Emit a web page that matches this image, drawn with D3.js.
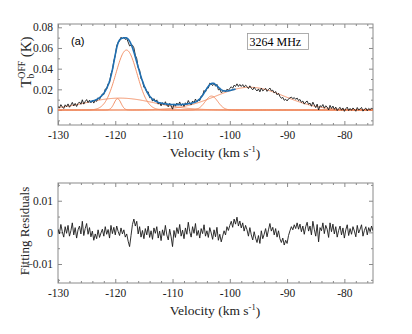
<!DOCTYPE html>
<html>
<head>
<meta charset="utf-8">
<script src="https://cdn.jsdelivr.net/npm/d3@7"></script>
<style>
  body { margin: 0; background: #fff; }
  svg { display: block; }
  .serif, .serif text { font-family: "Liberation Serif", "DejaVu Serif", "Times New Roman", serif; }
</style>
</head>
<body>
<div id="chart"></div>
<script>
// Channel grid of the spectrum (km/s)
const velStart = -130;
const velStep = 0.25;

const observed = [
  3.3, 2.0, 5.2, 3.0,   1.5, 5.0, 3.2, 5.9,   2.7, 4.7, 7.4, 3.9,   6.4, 3.4, 6.3, 7.8,
  5.6, 9.9, 5.7, 8.2,   10.1, 7.1, 9.5, 7.0,  9.1, 6.7, 9.3, 8.4,   11.8, 10.3, 12.9, 15.5,
  15.0, 20.3, 20.4, 25.4, 26.2, 35.2, 38.6, 47.6, 52.7, 62.2, 65.3, 66.8, 70.4, 69.0, 70.5, 68.3,
  69.1, 65.7, 62.0, 62.8, 62.7, 60.2, 53.0, 49.7, 40.9, 38.5, 30.4, 28.4, 21.9, 21.7, 17.3, 17.6,
  11.9, 12.5, 8.6, 11.0, 8.3, 9.8, 5.7, 7.4,   4.0, 7.1, 5.1, 8.0,    4.8, 3.1, 6.4, 4.0,
  0.8, 5.9, 3.7, 6.7,   4.8, 7.8, 4.1, 6.1,   3.5, 7.0, 5.2, 9.2,    6.4, 5.0, 8.7, 7.0,
  10.6, 7.6, 10.2, 9.1, 13.5, 13.9, 18.9, 17.5, 21.3, 21.2, 26.0, 25.2, 23.6, 26.2, 23.0, 24.8,
  19.5, 20.2, 16.8, 17.8, 19.0, 17.5, 20.1, 19.0, 20.9, 22.5, 21.0, 24.0, 22.8, 25.3, 22.8, 24.7,
  22.8, 24.6, 22.1, 24.0, 22.7, 20.7, 23.4, 21.1, 19.5, 22.0, 19.9, 18.4, 20.4, 17.6, 21.3, 18.5,
  19.6, 21.0, 18.0, 19.8, 21.3, 18.5, 19.2, 16.4, 17.9, 14.7, 16.1, 13.1, 11.3, 12.2, 9.4, 10.4,
  8.8, 10.8, 11.7, 12.5, 10.9, 12.0, 10.3, 11.6, 9.1, 10.2, 7.4, 8.7,   5.7, 7.7, 8.7, 5.5,
  6.7, 3.6, 7.6, 4.8,   2.3, 5.7, 0.0, 4.2,   3.0, 5.3, 1.7, 4.1,    2.8, 0.0, 4.5, 1.5,
  3.8, 0.6, 2.8, -0.6,  1.3, 2.6, -0.2, 2.0,  -1.3, 1.2, 2.8, -0.6,  1.5, -0.3, 2.0, 0.6,
  -1.2, 2.4, 0.0, 1.1,  2.5, -1.1, 0.7, 1.9,  -0.8, 1.5, 0.2, 2.0,   0.5
];

// Fitting residuals, mK, same channels
const residuals = [
  1.0, -0.5, 2.5, 0.2,  -1.5, 1.8, -0.3, 2.2, -1.2, 0.5, 3.0, -0.8,  1.5, -1.8, 0.8, 2.0,
  -0.5, 3.5, -1.0, 1.2, 2.8, -0.6, 1.5, -1.4, 0.4, -2.5, -0.5, -2.0, 0.8, -1.6, -0.2, 1.0,
  -1.2, 1.8, -0.6, 0.9, -1.8, 2.2, -0.4, 1.6, -0.8, 2.0, 0.3, -1.0,  1.4, -0.5, 0.8, -1.5,
  -0.5, -2.8, -4.5, -1.0, 2.5, 4.2, 2.0, 3.5, -0.5, 1.8, -1.5, 0.6, -2.0, 1.2, -0.8, 2.0,
  -1.6, 0.5, -2.2, 1.4, -0.3, 1.8, -1.8, 0.4, -2.6, 0.8, -1.0, 2.2,  -0.8, -2.4, 1.0, -1.4,
  -4.5, 0.6, -1.6, 1.5, -0.4, 2.5, -1.2, 0.7, -2.0, 1.4, -0.6, 3.2,  0.2, -1.5, 1.8, -0.3,
  2.8, -1.0, 0.6, -1.8, 1.2, -0.4, 2.4, -1.2, 0.5, -1.6, 1.5, -0.2,  -2.2, 0.8, -1.4, 1.6,
  -2.5, -0.6, -3.0, -1.2, 0.5, -0.8, 1.8, 0.6, 2.2, 3.5, 1.6, 4.2,   2.6, 4.8, 2.0, 3.6,
  1.4, 3.0, 0.4, 2.2,   0.8, -1.2, 1.5, -0.8, -2.4, 0.2, -1.8, -3.2, -1.0, -3.5, 0.5, -2.0,
  -0.6, 1.2, -1.4, 0.8, 2.8, 0.4, 1.6, -0.8,  1.2, -1.5, 0.5, -2.0,  -3.2, -1.8, -4.0, -2.5,
  -3.5, -1.0, 0.5, 1.8, 0.8, 2.4, 1.2, 3.0,   1.0, 2.6, 0.2, 2.0,    -0.6, 1.8, 3.2, 0.4,
  2.0, -0.8, 3.5, 1.0,  -1.2, 2.5, -3.0, 1.5, 0.5, 3.0, -0.4, 2.2,   1.0, -1.6, 3.0, 0.2,
  2.6, -0.5, 1.8, -1.5, 0.6, 2.0, -0.8, 1.4,  -1.8, 0.8, 2.4, -1.0,  1.2, -0.6, 1.8, 0.4,
  -1.4, 2.2, -0.2, 1.0, 2.4, -1.2, 0.6, 1.8,  -0.8, 1.5, 0.2, 2.0,   0.5
];

// Gaussian components of the fit (amplitude in mK, centre and sigma in km/s)
const compAmp = [58, 11, 11.5, 13.5, 22];
const compCenter = [-118.05, -119.6, -119.2, -103.2, -96.5];
const compSigma = [1.85, 0.6, 6, 1.1, 6];
const fitRange = [-124.5, -99];

const xTicks = [-130, -120, -110, -100, -90, -80];
const topYTicks = [0, 0.02, 0.04, 0.06, 0.08];
const botYTicks = [-0.01, 0, 0.01];

const W = 412, H = 334;
const frameColor = '#8a8a8a';

const svg = d3.select('#chart').append('svg')
  .attr('width', W).attr('height', H);

const x = d3.scaleLinear().domain([-130, -75]).range([58, 373]);
const yTop = d3.scaleLinear().domain([-0.0145, 0.0832]).range([125, 24]);
const yBot = d3.scaleLinear().domain([-0.016, 0.0156]).range([283, 183]);

const vel = observed.map((d, i) => velStart + i * velStep);

function gauss(v, k) {
  const d = v - compCenter[k];
  return compAmp[k] / 1000 * Math.exp(-d * d / (2 * compSigma[k] * compSigma[k]));
}

function drawFrame(y, yTicks, yMinorStep, yFmt, clipId) {
  const [y0, y1] = y.range();
  const [x0, x1] = x.range();
  const g = svg.append('g');

  const xMinor = d3.range(-130, -74.9, 2).filter(v => !xTicks.includes(v));
  const yd = y.domain();
  const yMinor = d3.range(Math.ceil(yd[0] / yMinorStep) * yMinorStep, yd[1], yMinorStep)
    .filter(v => !yTicks.some(t => Math.abs(t - v) < 1e-9));

  const axes = [
    [d3.axisBottom(x).tickValues(xTicks).tickSize(-4).tickPadding(6).tickFormat(d => String(d)), `translate(0,${y0})`],
    [d3.axisBottom(x).tickValues(xMinor).tickSize(-2).tickFormat(''), `translate(0,${y0})`],
    [d3.axisTop(x).tickValues(xTicks).tickSize(-4).tickFormat(''), `translate(0,${y1})`],
    [d3.axisTop(x).tickValues(xMinor).tickSize(-2).tickFormat(''), `translate(0,${y1})`],
    [d3.axisLeft(y).tickValues(yTicks).tickSize(-4).tickPadding(5).tickFormat(yFmt), `translate(${x0},0)`],
    [d3.axisLeft(y).tickValues(yMinor).tickSize(-2).tickFormat(''), `translate(${x0},0)`],
    [d3.axisRight(y).tickValues(yTicks).tickSize(-4).tickFormat(''), `translate(${x1},0)`],
    [d3.axisRight(y).tickValues(yMinor).tickSize(-2).tickFormat(''), `translate(${x1},0)`]
  ];
  axes.forEach(([ax, tr]) => {
    const a = g.append('g').attr('transform', tr).call(ax.tickSizeOuter(0));
    a.attr('font-family', null).attr('font-size', null).attr('class', 'serif');
    a.select('.domain').remove();
    a.selectAll('line').attr('stroke', frameColor);
    a.selectAll('text').style('font-size', '11.5px').attr('fill', '#222');
  });

  g.append('rect')
    .attr('x', x0).attr('y', y1).attr('width', x1 - x0).attr('height', y0 - y1)
    .attr('fill', 'none').attr('stroke', frameColor).attr('stroke-width', 1);

  svg.append('clipPath').attr('id', clipId)
    .append('rect').attr('x', x0).attr('y', y1).attr('width', x1 - x0).attr('height', y0 - y1);
}

// ---------- top panel ----------
drawFrame(yTop, topYTicks, 0.01, d => d === 0 ? '0' : d3.format('.2f')(d), 'clipTop');

const plotTop = svg.append('g').attr('clip-path', 'url(#clipTop)');
const grid = d3.range(-130, -74.95, 0.1);

compAmp.forEach((a, k) => {
  plotTop.append('path')
    .datum(grid)
    .attr('fill', 'none').attr('stroke', '#f0875a').attr('stroke-width', 0.9)
    .attr('d', d3.line().x(v => x(v)).y(v => yTop(gauss(v, k))));
});

plotTop.append('path')
  .datum(observed.map((d, i) => [vel[i], d / 1000]))
  .attr('fill', 'none').attr('stroke', '#1a1a1a').attr('stroke-width', 0.9)
  .attr('d', d3.line().x(d => x(d[0])).y(d => yTop(d[1])));

const fitGrid = grid.filter(v => v >= fitRange[0] && v <= fitRange[1]);
plotTop.append('path')
  .datum(fitGrid)
  .attr('fill', 'none').attr('stroke', '#1f6fb2').attr('stroke-width', 1.6)
  .attr('d', d3.line().x(v => x(v)).y(v => yTop(d3.sum(compAmp, (a, k) => gauss(v, k)))));

svg.append('text')
  .attr('x', 71).attr('y', 45)
  .style('font-family', '"Liberation Sans", Arial, sans-serif').style('font-size', '11px')
  .text('(a)');

svg.append('rect')
  .attr('x', 247.5).attr('y', 33.5).attr('width', 61).attr('height', 16)
  .attr('fill', '#fff').attr('stroke', '#999').attr('stroke-width', 0.8);
svg.append('text')
  .attr('class', 'serif')
  .attr('x', 249.5).attr('y', 45.5)
  .style('font-size', '12px')
  .text('3264 MHz');

// y label top: T_b^OFF (K)
const yl = svg.append('text')
  .attr('class', 'serif')
  .attr('transform', 'translate(31,62) rotate(-90)')
  .attr('text-anchor', 'middle')
  .style('font-size', '15px').attr('fill', '#222');
yl.append('tspan').text('T');
yl.append('tspan').style('font-size', '9.5px').attr('dy', '0.35em').text('b');
yl.append('tspan').style('font-size', '9.5px').attr('dx', -4.8).attr('dy', '-1.0em').text('OFF');
yl.append('tspan').attr('dy', '0.4em').text(' (K)');

function xTitle(yPos) {
  const t = svg.append('text')
    .attr('class', 'serif')
    .attr('x', 215).attr('y', yPos).attr('text-anchor', 'middle')
    .style('font-size', '13.5px').attr('fill', '#222');
  t.append('tspan').text('Velocity (km s');
  t.append('tspan').style('font-size', '8.5px').attr('dy', '-0.6em').text('-1');
  t.append('tspan').attr('dy', '0.45em').text(')');
}
xTitle(157);

// ---------- bottom panel ----------
drawFrame(yBot, botYTicks, 0.005, d => d === 0 ? '0' : d3.format('.2f')(d), 'clipBot');

svg.append('g').attr('clip-path', 'url(#clipBot)')
  .append('path')
  .datum(residuals.map((d, i) => [vel[i], d / 1000]))
  .attr('fill', 'none').attr('stroke', '#1a1a1a').attr('stroke-width', 0.9)
  .attr('d', d3.line().x(d => x(d[0])).y(d => yBot(d[1])));

svg.append('text')
  .attr('class', 'serif')
  .attr('transform', 'translate(29,231) rotate(-90)')
  .attr('text-anchor', 'middle')
  .style('font-size', '13px').attr('fill', '#222')
  .text('Fitting Residuals');

xTitle(315);
</script>
</body>
</html>
